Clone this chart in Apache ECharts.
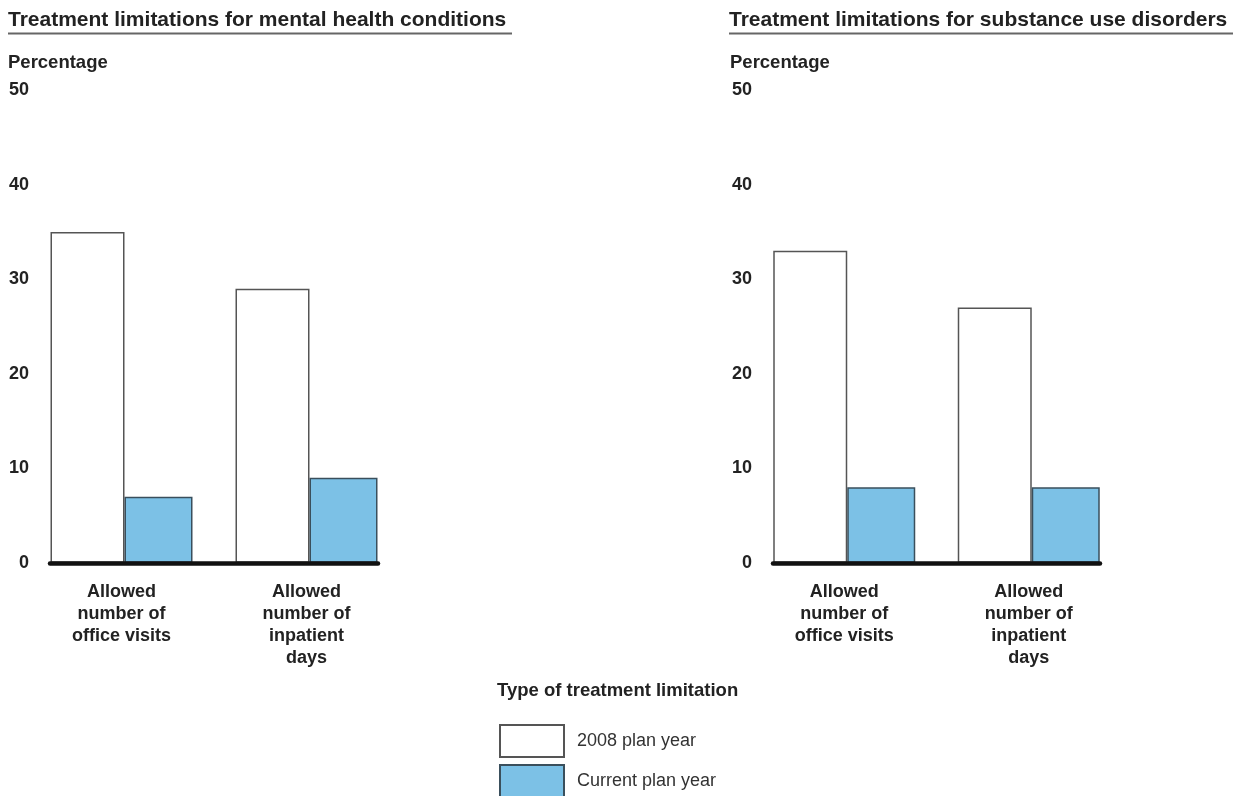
<!DOCTYPE html>
<html>
<head>
<meta charset="utf-8">
<script src="https://cdn.jsdelivr.net/npm/echarts@6/dist/echarts.min.js"></script>
<style>
html,body{margin:0;padding:0;background:#fff;}
#main{width:1233px;height:796px;}
</style>
</head>
<body>
<div id="main"></div>
<script>
// ---- data ----
const categories = ['Allowed\nnumber of\noffice visits', 'Allowed\nnumber of\ninpatient\ndays'];
const seriesNames = ['2008 plan year', 'Current plan year'];
const mental2008 = [35, 29];
const mentalCurrent = [7, 9];
const substance2008 = [33, 27];
const substanceCurrent = [8, 8];
const yTicks = [0, 10, 20, 30, 40, 50];
const chartTitles = ['Treatment limitations for mental health conditions', 'Treatment limitations for substance use disorders'];
const yAxisTitle = 'Percentage';
const legendTitle = 'Type of treatment limitation';

const FONT = '"Liberation Sans", Arial, Helvetica, sans-serif';
const TXT = '#222';
const BLUE = '#7cc1e6';

const chart = echarts.init(document.getElementById('main'));

const gridTop = 90, gridBottom = 233;
const panels = [
  {barLeft: 29, barRight: 1233 - 399, baseLeft: 50, baseRight: 1233 - 378, v1: mental2008, v2: mentalCurrent},
  {barLeft: 752, barRight: 1233 - 1121, baseLeft: 773, baseRight: 1233 - 1100, v1: substance2008, v2: substanceCurrent}
];

const grid = [], xAxis = [], yAxis = [], series = [];
panels.forEach((p, i) => {
  grid.push({left: p.barLeft, right: p.barRight, top: gridTop, bottom: gridBottom});
  grid.push({left: p.baseLeft, right: p.baseRight, top: gridTop, bottom: gridBottom});
  const gb = i * 2, gl = i * 2 + 1;
  xAxis.push({
    type: 'category', gridIndex: gb, data: categories,
    axisLine: {show: false}, axisTick: {show: false},
    axisLabel: {fontFamily: FONT, fontSize: 18, fontWeight: 'bold', color: TXT, lineHeight: 22, margin: 18, interval: 0}
  });
  xAxis.push({
    type: 'category', gridIndex: gl, data: [''], z: 10,
    axisLine: {show: true, lineStyle: {color: '#111', width: 4.5}},
    axisTick: {show: false}, axisLabel: {show: false}
  });
  yAxis.push({
    type: 'value', gridIndex: gb, min: yTicks[0], max: yTicks[yTicks.length - 1], interval: yTicks[1] - yTicks[0],
    axisLine: {show: false}, axisTick: {show: false}, splitLine: {show: false},
    axisLabel: {fontFamily: FONT, fontSize: 18, fontWeight: 'bold', color: TXT, margin: 0, align: 'right', padding: [3, 0, 0, 0]}
  });
  yAxis.push({type: 'value', gridIndex: gl, min: 0, max: 50, show: false});
  series.push({
    name: seriesNames[0], type: 'bar', xAxisIndex: gb, yAxisIndex: gb, data: p.v1,
    barWidth: 74, barGap: '0%',
    itemStyle: {color: '#ffffff', borderColor: '#555', borderWidth: 1.5}
  });
  series.push({
    name: seriesNames[1], type: 'bar', xAxisIndex: gb, yAxisIndex: gb, data: p.v2,
    barWidth: 68, barGap: '0%',
    itemStyle: {color: BLUE, borderColor: '#3a4f5c', borderWidth: 1.5}
  });
});

const legendBase = {
  orient: 'vertical', left: 499, itemWidth: 64, itemHeight: 32, padding: 0,
  icon: 'rect', selectedMode: false,
  textStyle: {fontFamily: FONT, fontSize: 18, color: '#333', padding: [0, 0, 0, 8]}
};

const option = {
  backgroundColor: '#ffffff',
  animation: false,
  title: [
    {text: chartTitles[0], left: 3, top: 5, textStyle: {fontFamily: FONT, fontSize: 21, fontWeight: 'bold', color: TXT}},
    {text: chartTitles[1], left: 724, top: 5, textStyle: {fontFamily: FONT, fontSize: 21, fontWeight: 'bold', color: TXT}},
    {text: yAxisTitle, left: 3, top: 48, textStyle: {fontFamily: FONT, fontSize: 18.5, fontWeight: 'bold', color: TXT}},
    {text: yAxisTitle, left: 725, top: 48, textStyle: {fontFamily: FONT, fontSize: 18.5, fontWeight: 'bold', color: TXT}},
    {text: legendTitle, left: 492, top: 676, textStyle: {fontFamily: FONT, fontSize: 18.5, fontWeight: 'bold', color: TXT}}
  ],
  legend: [
    Object.assign({}, legendBase, {data: [seriesNames[0]], top: 724}),
    Object.assign({}, legendBase, {data: [seriesNames[1]], top: 764})
  ],
  graphic: [
    {type: 'line', shape: {x1: 8, y1: 33.5, x2: 512, y2: 33.5}, style: {stroke: '#666', lineWidth: 2}},
    {type: 'line', shape: {x1: 729, y1: 33.5, x2: 1233, y2: 33.5}, style: {stroke: '#666', lineWidth: 2}}
  ],
  grid, xAxis, yAxis, series
};
chart.setOption(option);
</script>
</body>
</html>
